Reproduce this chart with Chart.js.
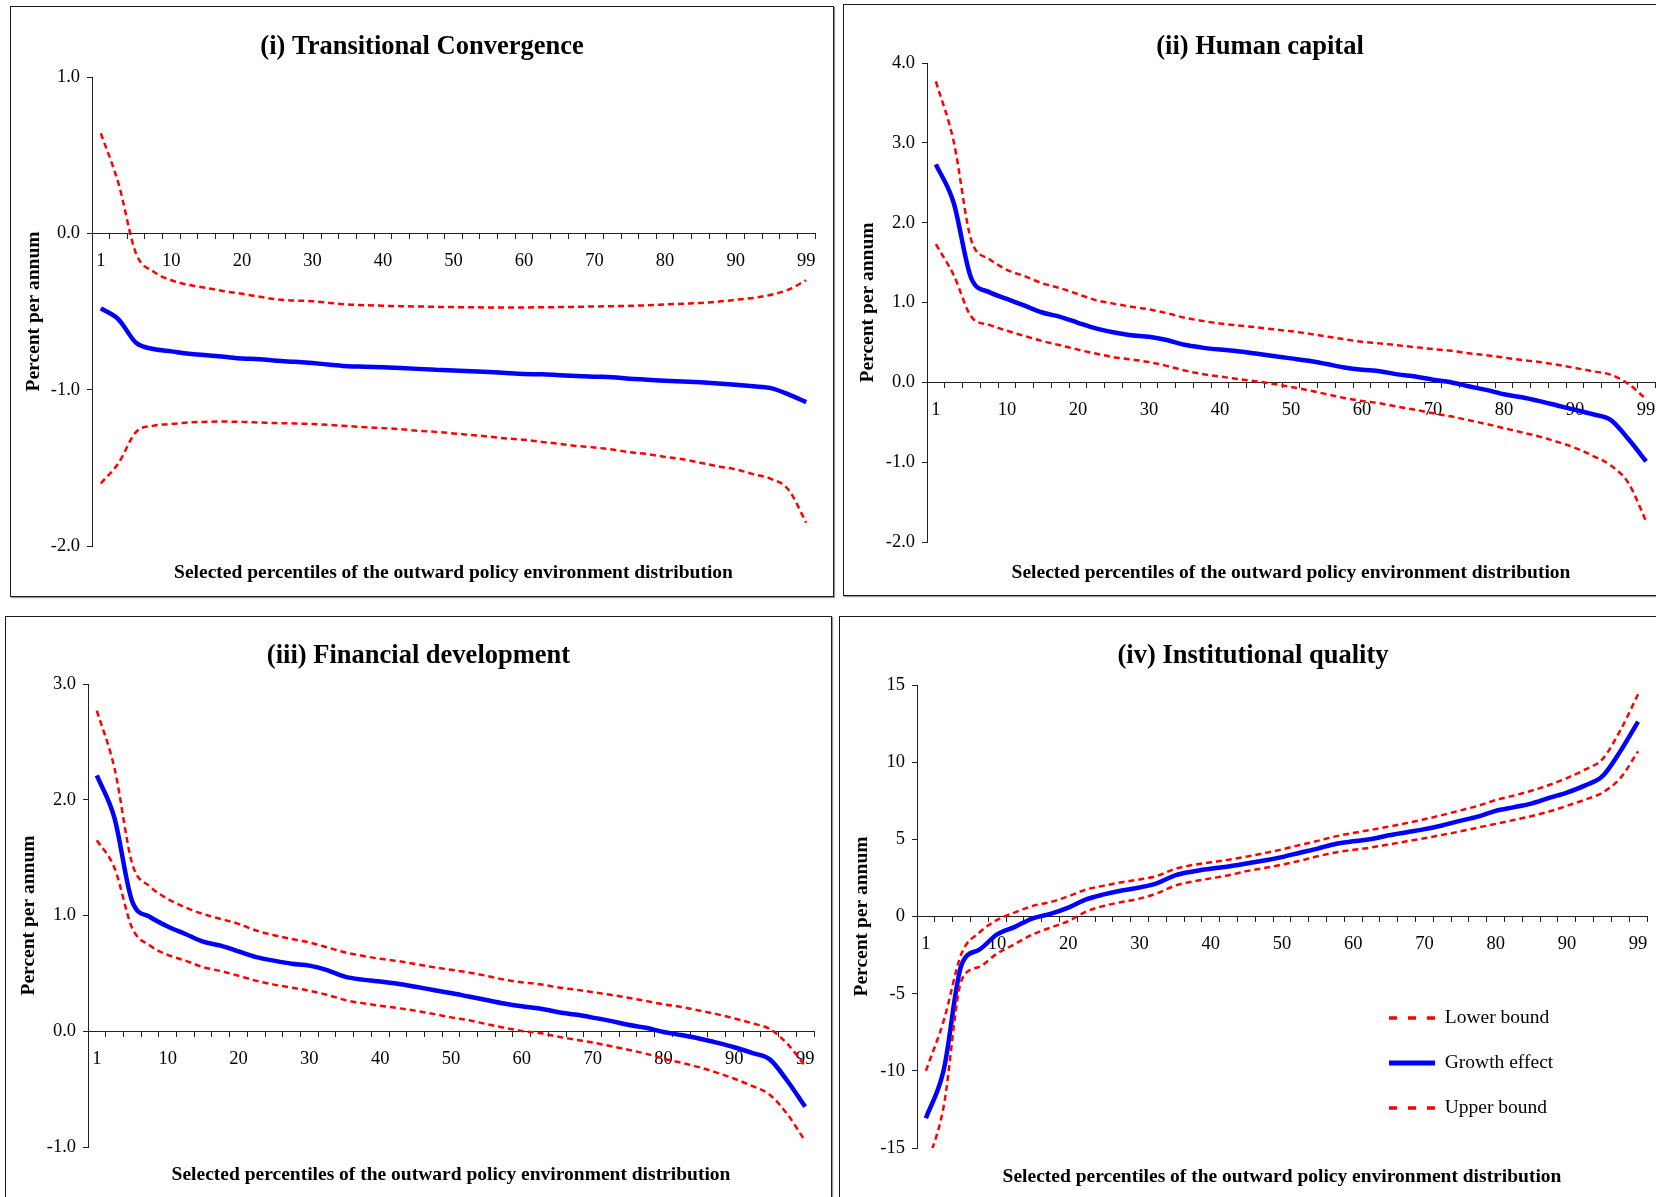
<!DOCTYPE html>
<html>
<head>
<meta charset="utf-8">
<script src="https://cdn.jsdelivr.net/npm/chart.js@4.4.1/dist/chart.umd.min.js"></script>
<style>
    body { margin: 0; width: 1656px; height: 1197px; overflow: hidden; background: #fff; position: relative; }
    .panel { position: absolute; box-sizing: border-box; border: 1.5px solid #1a1a1a; box-shadow: 1px 1px 1px #9a9a9a; }
    canvas { position: absolute; }
</style>
</head>
<body>
<script>
// categories (selected percentiles) and which of them get a label
const percentiles = ['1', '2.5', '5', '7.5', '10', '12.5', '15', '17.5', '20', '22.5', '25', '27.5', '30', '32.5', '35', '37.5',
    '40', '42.5', '45', '47.5', '50', '52.5', '55', '57.5', '60', '62.5', '65', '67.5', '70', '72.5', '75', '77.5',
    '80', '82.5', '85', '87.5', '90', '92.5', '95', '97.5', '99'];
const tickLabels = ['1', '10', '20', '30', '40', '50', '60', '70', '80', '90', '99'];
const seriesNames = ['Lower bound', 'Growth effect', 'Upper bound'];

// (i) Transitional Convergence
const tcLower = [-1.60, -1.47, -1.27, -1.23, -1.22, -1.21, -1.206, -1.204, -1.206, -1.21, -1.214, -1.216, -1.22, -1.226,
    -1.233, -1.24, -1.246, -1.253, -1.263, -1.27, -1.28, -1.29, -1.30, -1.312, -1.32, -1.334, -1.346, -1.36, -1.37,
    -1.383, -1.40, -1.413, -1.43, -1.445, -1.467, -1.49, -1.51, -1.54, -1.57, -1.64, -1.85];
const tcGrowth = [-0.48, -0.55, -0.70, -0.74, -0.755, -0.77, -0.78, -0.79, -0.80, -0.805, -0.815, -0.822, -0.83, -0.84,
    -0.85, -0.853, -0.857, -0.862, -0.867, -0.872, -0.877, -0.882, -0.887, -0.894, -0.90, -0.902, -0.907, -0.912,
    -0.917, -0.92, -0.93, -0.936, -0.943, -0.948, -0.953, -0.96, -0.968, -0.978, -0.99, -1.03, -1.08];
const tcUpper = [0.64, 0.32, -0.13, -0.245, -0.30, -0.33, -0.35, -0.37, -0.387, -0.405, -0.423, -0.43, -0.434, -0.445,
    -0.455, -0.46, -0.463, -0.466, -0.468, -0.47, -0.472, -0.473, -0.474, -0.474, -0.474, -0.473, -0.472, -0.47,
    -0.468, -0.466, -0.464, -0.46, -0.455, -0.45, -0.445, -0.437, -0.425, -0.413, -0.393, -0.36, -0.30];

// (ii) Human capital
const hcLower = [1.73, 1.345, 0.82, 0.72, 0.646, 0.58, 0.517, 0.464, 0.41, 0.36, 0.316, 0.287, 0.254, 0.206, 0.148,
    0.105, 0.072, 0.043, 0.014, -0.02, -0.057, -0.10, -0.148, -0.196, -0.234, -0.263, -0.306, -0.344, -0.388, -0.426,
    -0.474, -0.522, -0.574, -0.627, -0.68, -0.746, -0.82, -0.92, -1.04, -1.26, -1.74];
const hcGrowth = [2.73, 2.25, 1.30, 1.13, 1.045, 0.96, 0.875, 0.82, 0.746, 0.675, 0.627, 0.59, 0.57, 0.53, 0.47, 0.435,
    0.41, 0.39, 0.36, 0.33, 0.30, 0.27, 0.23, 0.187, 0.158, 0.14, 0.10, 0.072, 0.033, 0.0, -0.05, -0.095, -0.15,
    -0.187, -0.235, -0.29, -0.345, -0.40, -0.47, -0.71, -0.99];
const hcUpper = [3.77, 3.02, 1.775, 1.545, 1.41, 1.33, 1.24, 1.18, 1.105, 1.03, 0.986, 0.947, 0.914, 0.866, 0.81, 0.77,
    0.737, 0.713, 0.69, 0.665, 0.64, 0.61, 0.574, 0.54, 0.507, 0.488, 0.464, 0.44, 0.416, 0.397, 0.364, 0.34, 0.31,
    0.28, 0.254, 0.22, 0.18, 0.139, 0.096, -0.02, -0.21];

// (iii) Financial development
const fdLower = [1.65, 1.41, 0.89, 0.74, 0.66, 0.61, 0.554, 0.52, 0.479, 0.436, 0.403, 0.377, 0.35, 0.315, 0.27, 0.243,
    0.22, 0.20, 0.177, 0.15, 0.12, 0.095, 0.062, 0.03, 0.003, -0.016, -0.046, -0.072, -0.098, -0.128, -0.16, -0.193,
    -0.236, -0.272, -0.31, -0.357, -0.41, -0.472, -0.548, -0.718, -0.948];
const fdGrowth = [2.21, 1.84, 1.12, 0.987, 0.905, 0.84, 0.774, 0.74, 0.69, 0.64, 0.61, 0.584, 0.567, 0.528, 0.472, 0.446,
    0.43, 0.41, 0.384, 0.357, 0.33, 0.30, 0.27, 0.24, 0.216, 0.197, 0.167, 0.144, 0.118, 0.09, 0.056, 0.03, -0.007,
    -0.033, -0.062, -0.098, -0.138, -0.187, -0.243, -0.43, -0.652];
const fdUpper = [2.77, 2.27, 1.446, 1.25, 1.144, 1.07, 1.013, 0.97, 0.928, 0.87, 0.83, 0.797, 0.767, 0.725, 0.682, 0.652,
    0.626, 0.607, 0.58, 0.554, 0.531, 0.508, 0.479, 0.446, 0.423, 0.407, 0.38, 0.36, 0.338, 0.315, 0.289, 0.262, 0.233,
    0.21, 0.18, 0.148, 0.111, 0.069, 0.02, -0.11, -0.298];

// (iv) Institutional quality
const iqLower = [-16.3, -12.3, -4.13, -3.26, -2.4, -1.78, -1.16, -0.72, -0.3, 0.32, 0.69, 0.94, 1.16, 1.51, 2.0, 2.27,
    2.47, 2.67, 2.94, 3.14, 3.36, 3.61, 3.9, 4.15, 4.32, 4.47, 4.67, 4.87, 5.07, 5.29, 5.51, 5.76, 6.0, 6.25, 6.5, 6.8,
    7.17, 7.56, 8.03, 8.97, 10.7];
const iqGrowth = [-13.07, -9.95, -3.14, -2.15, -1.16, -0.67, -0.12, 0.17, 0.57, 1.11, 1.43, 1.68, 1.88, 2.17, 2.67, 2.92,
    3.09, 3.24, 3.43, 3.63, 3.85, 4.13, 4.4, 4.7, 4.87, 5.02, 5.26, 5.46, 5.66, 5.9, 6.2, 6.47, 6.84, 7.07, 7.31, 7.68,
    8.03, 8.48, 9.09, 10.7, 12.63];
const iqUpper = [-10.0, -6.75, -2.4, -1.04, -0.22, 0.27, 0.69, 0.94, 1.31, 1.75, 2.0, 2.22, 2.4, 2.64, 3.09, 3.34, 3.51,
    3.68, 3.88, 4.1, 4.35, 4.63, 4.9, 5.19, 5.41, 5.61, 5.83, 6.05, 6.3, 6.57, 6.87, 7.17, 7.54, 7.83, 8.15, 8.52, 8.97,
    9.51, 10.2, 12.06, 14.4];

// where each panel sits on the page (box, plot area, text centres)
const panels = [
    { title: '(i) Transitional Convergence', series: [tcLower, tcGrowth, tcUpper], yMin: -2, yMax: 1, yStep: 1, dec: 1,
      box: [10, 6, 824, 591], plot: [92, 77, 815, 546], titleY: 47, yTitleX: 34, xTitleY: 573 },
    { title: '(ii) Human capital', series: [hcLower, hcGrowth, hcUpper], yMin: -2, yMax: 4, yStep: 1, dec: 1,
      box: [843, 4, 834, 592], plot: [927, 63, 1655, 542], titleY: 47, yTitleX: 868, xTitleY: 573 },
    { title: '(iii) Financial development', series: [fdLower, fdGrowth, fdUpper], yMin: -1, yMax: 3, yStep: 1, dec: 1,
      box: [5, 616, 827, 600], plot: [88, 684, 814, 1147], titleY: 656, yTitleX: 28.5, xTitleY: 1175 },
    { title: '(iv) Institutional quality', series: [iqLower, iqGrowth, iqUpper], yMin: -15, yMax: 15, yStep: 5, dec: 0,
      box: [839, 616, 828, 600], plot: [917, 685, 1647, 1148], titleY: 656, yTitleX: 862, xTitleY: 1177,
      legend: { x: 1389, y: 1018 } }
];

Chart.defaults.font.family = "'Liberation Serif', 'Times New Roman', serif";
Chart.defaults.color = '#000';

const AXIS = '#222';
const RED = '#ff0000';
const BLUE = '#0000ff';
const LEG_PAD = 25.5;
const LEG_FONT = 19.5;
const TITLE_SIZE = 26.5, AXIS_TITLE_SIZE = 19.5, TICK_SIZE = 18.5;

// move the legend to a fixed spot inside the plot
const legendSpot = {
    id: 'legendSpot',
    afterLayout(chart, args, opts) {
        let lg = chart.legend;
        if (!lg || opts.x == null) return;
        lg.left = opts.x - LEG_PAD;
        lg.top = opts.y - LEG_PAD - LEG_FONT / 2;
        lg.width = 300;
        lg.height = 220;
        lg.right = lg.left + lg.width;
        lg.bottom = lg.top + lg.height;
    }
};

let makeChart = (p) => {
    const [bx, by, bw, bh] = p.box;
    const [pl, pt, pr, pb] = p.plot;

    let frame = document.createElement('div');
    frame.className = 'panel';
    Object.assign(frame.style, { left: bx + 'px', top: by + 'px', width: bw + 'px', height: bh + 'px' });
    let cv = document.createElement('canvas');
    cv.width = bw;
    cv.height = bh;
    Object.assign(cv.style, { left: bx + 'px', top: by + 'px' });
    document.body.append(frame, cv);

    const left = pl - bx, top = pt - by, right = bw - (pr - bx), bottom = pb - by;
    const titleLH = TITLE_SIZE * 1.2, yTitleLH = AXIS_TITLE_SIZE * 1.2, xTitleLH = AXIS_TITLE_SIZE * 1.2;
    const spot = p.legend ? { x: p.legend.x - bx, y: p.legend.y - by } : {};

    let dashed = (i) => ({
        label: seriesNames[i], data: p.series[i], xAxisID: 'x', yAxisID: 'y',
        borderColor: RED, backgroundColor: RED, borderWidth: 2.5, borderDash: [6, 4]
    });

    new Chart(cv, {
        type: 'line',
        data: {
            labels: percentiles,
            datasets: [
                dashed(0),
                { label: seriesNames[1], data: p.series[1], xAxisID: 'x', yAxisID: 'y',
                  borderColor: BLUE, backgroundColor: BLUE, borderWidth: 4.5 },
                dashed(2)
            ]
        },
        options: {
            responsive: false,
            animation: false,
            layout: { padding: 0 },
            elements: {
                point: { radius: 0, hoverRadius: 0 },
                line: { cubicInterpolationMode: 'monotone', fill: false, borderCapStyle: 'butt' }
            },
            scales: {
                x: {
                    type: 'category',
                    position: { y: 0 },
                    offset: true,
                    grid: { offset: true, drawOnChartArea: false, tickLength: 5, color: AXIS },
                    border: { color: AXIS, width: 1 },
                    ticks: {
                        autoSkip: false, maxRotation: 0, padding: 12, font: { size: TICK_SIZE },
                        callback: function (v) {
                            let l = this.getLabelForValue(v);
                            return tickLabels.includes(l) ? l : '';
                        }
                    }
                },
                xb: {
                    type: 'category',
                    position: 'bottom',
                    grid: { display: false },
                    border: { display: false },
                    ticks: { display: false },
                    title: {
                        display: true,
                        text: 'Selected percentiles of the outward policy environment distribution',
                        font: { size: AXIS_TITLE_SIZE, weight: 'bold' },
                        padding: { top: 0, bottom: bh - (p.xTitleY - by) - xTitleLH / 2 }
                    },
                    afterFit: (s) => { s.height = bh - bottom; }
                },
                y: {
                    position: 'left',
                    min: p.yMin,
                    max: p.yMax,
                    grid: { drawOnChartArea: false, tickLength: 5, color: AXIS },
                    border: { color: AXIS, width: 1 },
                    ticks: { stepSize: p.yStep, padding: 7, font: { size: TICK_SIZE }, callback: (v) => v.toFixed(p.dec) },
                    title: {
                        display: true,
                        text: 'Percent per annum',
                        font: { size: AXIS_TITLE_SIZE, weight: 'bold' },
                        padding: { top: (p.yTitleX - bx) - yTitleLH / 2, bottom: 0 }
                    },
                    afterFit: (s) => { s.width = left; }
                },
                // empty right-hand axis, only keeps the right margin so the title stays centred on the panel
                yr: {
                    type: 'linear',
                    position: 'right',
                    grid: { display: false },
                    border: { display: false },
                    ticks: { display: false },
                    afterFit: (s) => { s.width = right; }
                }
            },
            plugins: {
                title: {
                    display: true,
                    text: p.title,
                    font: { size: TITLE_SIZE, weight: 'bold' },
                    color: '#000',
                    padding: { top: (p.titleY - by) - titleLH / 2, bottom: top - (p.titleY - by) - titleLH / 2 }
                },
                legend: {
                    display: !!p.legend,
                    position: 'chartArea',
                    align: 'start',
                    labels: {
                        usePointStyle: true,
                        pointStyle: 'line',
                        pointStyleWidth: 46,
                        padding: LEG_PAD,
                        font: { size: LEG_FONT },
                        color: '#000',
                        generateLabels: (chart) => Chart.defaults.plugins.legend.labels.generateLabels(chart).map((it, i) => {
                            let ds = chart.data.datasets[i];
                            let blue = ds.borderColor === BLUE;
                            return Object.assign(it, {
                                strokeStyle: ds.borderColor,
                                lineWidth: blue ? 5 : 3.5,
                                lineDash: blue ? [] : [8, 11],
                                pointStyle: 'line'
                            });
                        })
                    }
                },
                legendSpot: spot,
                tooltip: { enabled: false }
            }
        },
        plugins: [legendSpot]
    });
};

panels.forEach(makeChart);
</script>
</body>
</html>
